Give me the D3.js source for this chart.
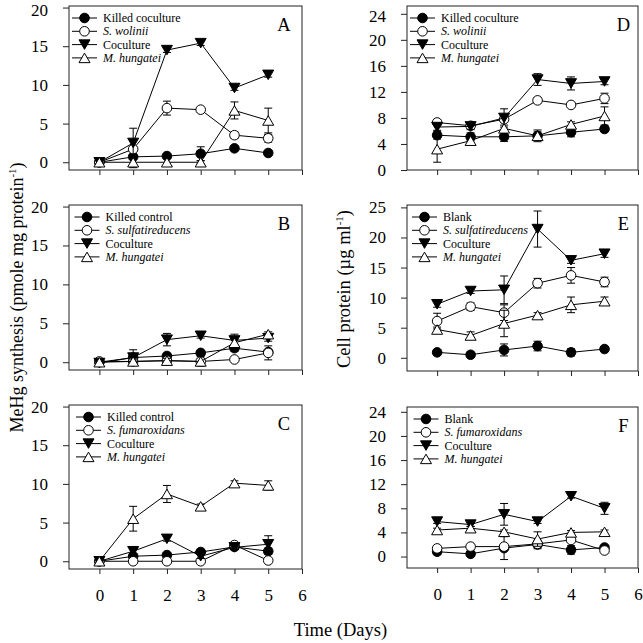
<!DOCTYPE html>
<html><head><meta charset="utf-8">
<script src="https://cdn.jsdelivr.net/npm/d3@7"></script>
<style>
body{margin:0;background:#fff}
svg{display:block}
text{font-family:"Liberation Serif","Times New Roman","DejaVu Serif",serif;fill:#000}
</style>
</head><body><svg id="c" width="643" height="643" font-family="Liberation Serif, Times New Roman, serif"></svg>
<script>
const FONT = '"Liberation Serif","Times New Roman","DejaVu Serif",serif';
const days = [0,1,2,3,4,5];
const xTicks = [0,1,2,3,4,5,6];
const markerKinds = ["circleFilled","circleOpen","triDown","triUp"];
const italicSeries = [false,true,false,true];

// Panel A – MeHg, S. wolinii
const aNames = ["Killed coculture","S. wolinii","Coculture","M. hungatei"];
const aValues = [[0,0.7,0.8,1.1,1.8,1.2],[0,1.7,7.0,6.8,3.5,3.1],[0,2.5,14.5,15.4,9.6,11.3],[0,0,0,0,6.7,5.4]];
const aErrors = [[0.2,0.3,0.3,0.9,0.3,0.3],[0.2,0.3,0.9,0.3,0.4,0.5],[0.2,1.9,0.3,0.3,0.3,0.3],[0.2,0.7,0.5,0.2,1.1,1.6]];
const aTicks = [0,5,10,15,20];

// Panel B – MeHg, S. sulfatireducens
const bNames = ["Killed control","S. sulfatireducens","Coculture","M. hungatei"];
const bValues = [[0,0.6,0.8,1.2,1.8,1.3],[0.1,0.1,0.2,0.1,0.35,1.2],[-0.1,0.6,2.9,3.4,2.8,3.1],[0,0.1,0.2,0.1,2.5,3.6]];
const bErrors = [[0.1,0.4,0.3,0.3,0.4,0.3],[0.1,0.2,0.2,0.2,0.2,0.9],[0.1,1.0,0.8,0.3,0.8,0.4],[0.1,0.2,0.3,0.6,0.4,0.3]];
const bTicks = [0,5,10,15,20];

// Panel C – MeHg, S. fumaroxidans
const cNames = ["Killed control","S. fumaroxidans","Coculture","M. hungatei"];
const cValues = [[0,0.65,0.8,1.2,1.85,1.3],[0,0,0,0,2.1,0.1],[0,1.3,2.9,0.65,1.8,2.2],[0,5.5,8.7,7.1,10.1,9.8]];
const cErrors = [[0.1,0.3,0.3,0.3,0.3,0.4],[0.1,0.1,0.1,0.1,0.2,0.1],[0.1,0.3,0.3,0.3,0.3,1.1],[0.1,1.6,1.1,0.3,0.3,0.6]];
const cTicks = [0,5,10,15,20];

// Panel D – cell protein, S. wolinii
const dNames = ["Killed coculture","S. wolinii","Coculture","M. hungatei"];
const dValues = [[5.35,5.1,5.1,5.25,5.8,6.3],[7.3,6.8,7.8,10.7,10.0,11.0],[6.6,6.7,8.0,13.9,13.3,13.6],[3.2,4.5,6.4,5.25,7.0,8.3]];
const dErrors = [[0.6,0.6,0.7,0.6,0.7,0.4],[0.4,0.4,0.5,0.4,0.3,0.8],[0.5,0.5,1.4,0.9,1.0,0.5],[2.0,0.6,0.5,0.9,0.4,1.4]];
const dTicks = [0,4,8,12,16,20,24];

// Panel E – cell protein, S. sulfatireducens
const eNames = ["Blank","S. sulfatireducens","Coculture","M. hungatei"];
const eValues = [[0.9,0.5,1.3,1.95,0.9,1.45],[6.1,8.5,7.5,12.4,13.7,12.6],[8.9,11.1,11.3,21.4,16.2,17.3],[4.7,3.7,5.7,7.1,8.8,9.4]];
const eErrors = [[0.4,0.3,1.0,0.8,0.6,0.3],[1.3,0.6,1.3,0.8,1.3,0.8],[0.5,0.4,2.3,3.0,0.5,0.6],[0.4,0.6,2.2,0.4,1.3,0.7]];
const eTicks = [0,5,10,15,20,25];

// Panel F – cell protein, S. fumaroxidans
const fNames = ["Blank","S. fumaroxidans","Coculture","M. hungatei"];
const fValues = [[0.8,0.45,1.4,2.0,1.1,1.5],[1.35,1.65,1.65,2.1,2.75,1.0],[5.8,5.3,7.0,5.8,10.0,8.0],[4.4,4.7,4.1,2.9,4.0,4.1]];
const fErrors = [[0.5,0.3,1.9,0.7,0.7,0.3],[0.3,0.3,0.4,0.3,0.3,0.2],[0.3,0.3,1.8,0.3,0.3,1.0],[0.3,0.3,0.3,1.2,0.3,0.3]];
const fTicks = [0,4,8,12,16,20,24];

const panels = [
  {label:"A", names:aNames, values:aValues, errors:aErrors, ticks:aTicks, dom:[-1.0,20.2], box:[69,302,6,170], lx:0, top:true},
  {label:"B", names:bNames, values:bValues, errors:bErrors, ticks:bTicks, dom:[-1.0,20.2], box:[69,302,205,370], lx:2.5},
  {label:"C", names:cNames, values:cValues, errors:cErrors, ticks:cTicks, dom:[-1.0,20.2], box:[69,302,405,569], xlab:true, lx:4},
  {label:"D", names:dNames, values:dValues, errors:dErrors, ticks:dTicks, dom:[0,25.2], box:[407,638,6,170], lx:0, top:true},
  {label:"E", names:eNames, values:eValues, errors:eErrors, ticks:eTicks, dom:[-2.2,25.4], box:[407,638,205,371], lx:2},
  {label:"F", names:fNames, values:fValues, errors:fErrors, ticks:fTicks, dom:[-1.9,24.8], box:[407,638,407,568], xlab:true, lx:3.5}
];

const svg = d3.select("#c");

function drawMarker(g, kind, cx, cy){
  const r = 4.8, w = 11, h = 9.5;
  if (kind === "circleFilled" || kind === "circleOpen") {
    g.append("circle").attr("cx",cx).attr("cy",cy).attr("r",r)
      .attr("fill", kind==="circleFilled" ? "#000" : "#fff").attr("stroke","#000").attr("stroke-width",1);
  } else if (kind === "triDown") {
    g.append("path").attr("d",`M${cx-w/2},${cy-h/2}L${cx+w/2},${cy-h/2}L${cx},${cy+h/2}Z`)
      .attr("fill","#000").attr("stroke","#000").attr("stroke-width",1);
  } else {
    g.append("path").attr("d",`M${cx-w/2},${cy+h/2}L${cx+w/2},${cy+h/2}L${cx},${cy-h/2}Z`)
      .attr("fill","#fff").attr("stroke","#000").attr("stroke-width",1);
  }
}

panels.forEach(p => {
  const [x0,x1,y0,y1] = p.box;
  const x = d3.scaleLinear().domain([-0.9,6]).range([x0,x1]);
  const y = d3.scaleLinear().domain(p.dom).range([y1,y0]);
  const g = svg.append("g");

  // frame
  g.append("rect").attr("x",x0).attr("y",y0).attr("width",x1-x0).attr("height",y1-y0)
    .attr("fill","none").attr("stroke","#222").attr("stroke-width",1);

  // y axis
  const ya = g.append("g").attr("transform",`translate(${x0},0)`)
    .call(d3.axisLeft(y).tickValues(p.ticks).tickSize(6).tickPadding(15).tickFormat(d3.format("d")));
  ya.attr("font-family", null).attr("font-size", null);
  ya.select(".domain").remove();
  ya.selectAll("line").attr("stroke","#222");
  ya.selectAll("text").attr("font-family",FONT).style("font-family",FONT).style("font-size","17px");
  if (p.top) {
    const maxT = p.ticks[p.ticks.length-1];
    ya.selectAll(".tick").filter(d => d === maxT).select("text").attr("dy","0.45em");
  }

  // x axis
  const xa = g.append("g").attr("transform",`translate(0,${y1})`)
    .call(d3.axisBottom(x).tickValues(xTicks).tickSize(5).tickPadding(15).tickFormat(p.xlab ? d3.format("d") : ""));
  xa.attr("font-family", null).attr("font-size", null);
  xa.select(".domain").remove();
  xa.selectAll("line").attr("stroke","#222");
  xa.selectAll("text").attr("font-family",FONT).style("font-family",FONT).style("font-size","17px");

  // series
  p.values.forEach((vals, si) => {
    const errs = p.errors[si];
    const sg = g.append("g");
    days.forEach((d,i) => {
      const cx = x(d), top = y(vals[i]+errs[i]), bot = y(vals[i]-errs[i]);
      sg.append("line").attr("x1",cx).attr("x2",cx).attr("y1",top).attr("y2",bot).attr("stroke","#000").attr("stroke-width",1);
      sg.append("line").attr("x1",cx-4).attr("x2",cx+4).attr("y1",top).attr("y2",top).attr("stroke","#000").attr("stroke-width",1);
      sg.append("line").attr("x1",cx-4).attr("x2",cx+4).attr("y1",bot).attr("y2",bot).attr("stroke","#000").attr("stroke-width",1);
    });
    sg.append("path").datum(vals)
      .attr("d", d3.line().x((v,i)=>x(days[i])).y(v=>y(v)))
      .attr("fill","none").attr("stroke","#000").attr("stroke-width",1);
    days.forEach((d,i) => drawMarker(sg, markerKinds[si], x(d), y(vals[i])));
  });

  // legend
  p.names.forEach((n, i) => {
    const ly = y0 + 12 + i*13.3;
    const lx = x0 + p.lx;
    g.append("line").attr("x1",lx+3).attr("x2",lx+28).attr("y1",ly).attr("y2",ly).attr("stroke","#000");
    drawMarker(g, markerKinds[i], lx+15.5, ly);
    g.append("text").attr("x",lx+34).attr("y",ly+4).text(n)
      .attr("font-family",FONT).style("font-family",FONT)
      .style("font-size","12px").style("font-style", italicSeries[i] ? "italic" : "normal");
  });

  // panel letter
  g.append("text").attr("x", x1 - (x0 < 200 ? 18 : 14.5)).attr("y", y0+25)
    .attr("text-anchor","middle").attr("font-family",FONT).style("font-family",FONT)
    .style("font-size","18.5px").text(p.label);
});

// axis titles
svg.append("text").attr("transform","translate(22.5,297.5) rotate(-90)").attr("text-anchor","middle")
  .attr("font-family",FONT).style("font-size","18px")
  .html('MeHg synthesis (pmole mg protein<tspan dy="-7" font-size="11px">-1</tspan><tspan dy="7">)</tspan>');
svg.append("text").attr("transform","translate(349.5,289) rotate(-90)").attr("text-anchor","middle")
  .attr("font-family",FONT).style("font-size","18.5px")
  .html('Cell protein (µg ml<tspan dy="-7" font-size="11px">-1</tspan><tspan dy="7">)</tspan>');
svg.append("text").attr("x",340.5).attr("y",636).attr("text-anchor","middle")
  .attr("font-family",FONT).style("font-size","18.5px").text("Time (Days)");
</script>
</body></html>
